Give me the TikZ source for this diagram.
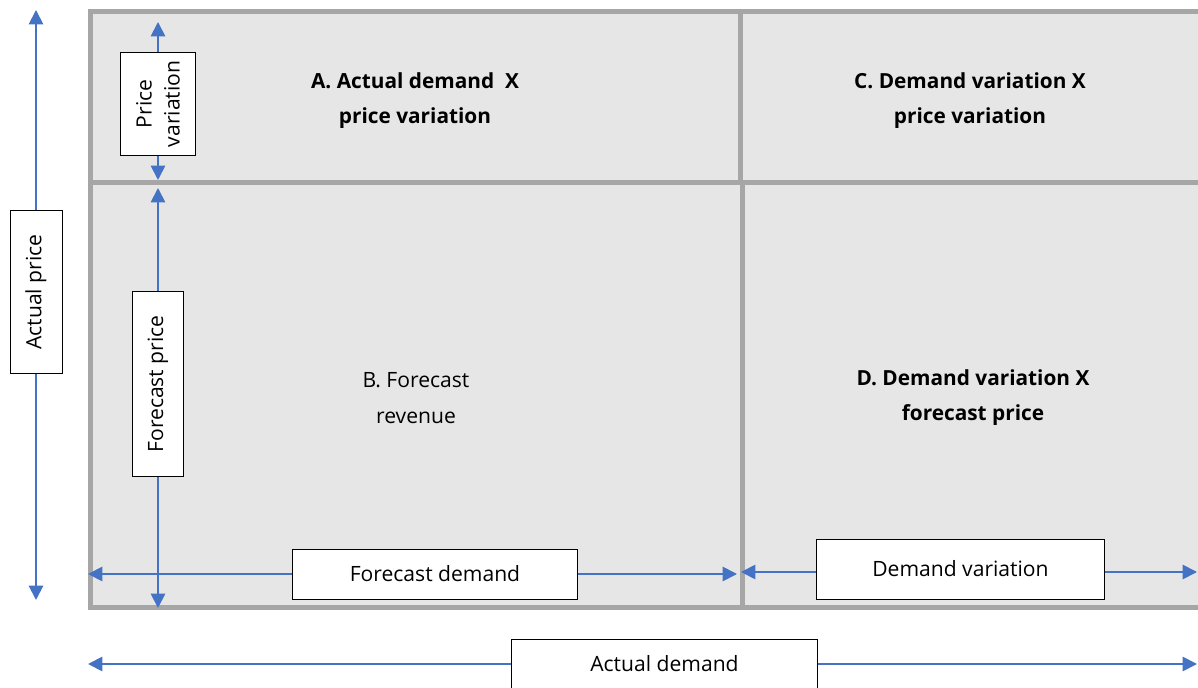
\documentclass[tikz,border=0pt]{standalone}
\usepackage{fontspec}
\setmainfont{Open Sans}
\usetikzlibrary{arrows.meta}
\definecolor{cellfill}{HTML}{E6E6E6}
\definecolor{cellline}{HTML}{A6A6A6}
\definecolor{dimblue}{HTML}{4472C4}
\tikzset{
  cell/.style={draw=cellline, fill=cellfill, line width=0.125cm},
  dimline/.style={dimblue, line width=1.3pt, -{Triangle[width=0.36cm, length=0.36cm]}},
  dimbox/.style={draw, fill=white, line width=0.7pt, inner sep=0pt, align=center, font=\fontsize{15}{23}\selectfont},
  celltext/.style={align=center, font=\bfseries\fontsize{14.8}{25}\selectfont},
  plaintext/.style={align=center, font=\fontsize{15}{25}\selectfont}
}

\begin{document}
\begin{tikzpicture}[x=0.025cm, y=-0.025cm]
  \useasboundingbox (0,0) rectangle (1198,688);
  \clip (0,0) rectangle (1198,688);

  % quadrants
  \draw[cell] (90,12) rectangle (740,183);
  \draw[cell] (740,12) rectangle (1202,183);
  \draw[cell] (90,183) rectangle (742,607);
  \draw[cell] (742,183) rectangle (1202,607);

  \node[celltext] (atext) at (415,101) {A. Actual demand\ \ X\\price variation};
  \node[celltext] (ctext) at (970,101) {C. Demand variation X\\price variation};
  \node[plaintext] (btext) at (416,398) {B. Forecast\\revenue};
  \node[celltext] (dtext) at (973,398) {D. Demand variation X\\forecast price};

  % vertical dimensions
  \node[dimbox, rotate=90, minimum width=4.05cm, minimum height=1.3cm] (aprice) at (36,292) {Actual price};
  \coordinate (apriceT) at (36,10);
  \coordinate (apriceB) at (36,600);
  \draw[dimline] (aprice.east) -- (apriceT);
  \draw[dimline] (aprice.west) -- (apriceB);

  \node[dimbox, rotate=90, minimum width=2.55cm, minimum height=1.875cm, font=\fontsize{15}{20}\selectfont] (pvar) at (158,104) {Price\\variation};
  \coordinate (pvarT) at (158,22);
  \coordinate (pvarB) at (158,180);
  \draw[dimline] (pvar.east) -- (pvarT);
  \draw[dimline] (pvar.west) -- (pvarB);

  \node[dimbox, rotate=90, minimum width=4.6cm, minimum height=1.275cm] (fprice) at (158,384) {Forecast price};
  \coordinate (fpriceT) at (158,188);
  \coordinate (fpriceB) at (158,608);
  \draw[dimline] (fprice.east) -- (fpriceT);
  \draw[dimline] (fprice.west) -- (fpriceB);

  % horizontal dimensions
  \node[dimbox, minimum width=7.1cm, minimum height=1.25cm] (fdem) at (435,574) {Forecast demand};
  \coordinate (fdemL) at (88,574);
  \coordinate (fdemR) at (737,574);
  \draw[dimline] (fdem.west) -- (fdemL);
  \draw[dimline] (fdem.east) -- (fdemR);

  \node[dimbox, minimum width=7.175cm, minimum height=1.5cm] (dvar) at (960.5,569) {Demand variation};
  \coordinate (dvarL) at (741,572);
  \coordinate (dvarR) at (1197,572);
  \draw[dimline] (dvar.west |- dvarL) -- (dvarL);
  \draw[dimline] (dvar.east |- dvarR) -- (dvarR);

  \node[dimbox, minimum width=7.625cm, minimum height=1.25cm] (adem) at (664.5,664) {Actual demand};
  \coordinate (ademL) at (88,664);
  \coordinate (ademR) at (1197,664);
  \draw[dimline] (adem.west) -- (ademL);
  \draw[dimline] (adem.east) -- (ademR);
\end{tikzpicture}
\end{document}
